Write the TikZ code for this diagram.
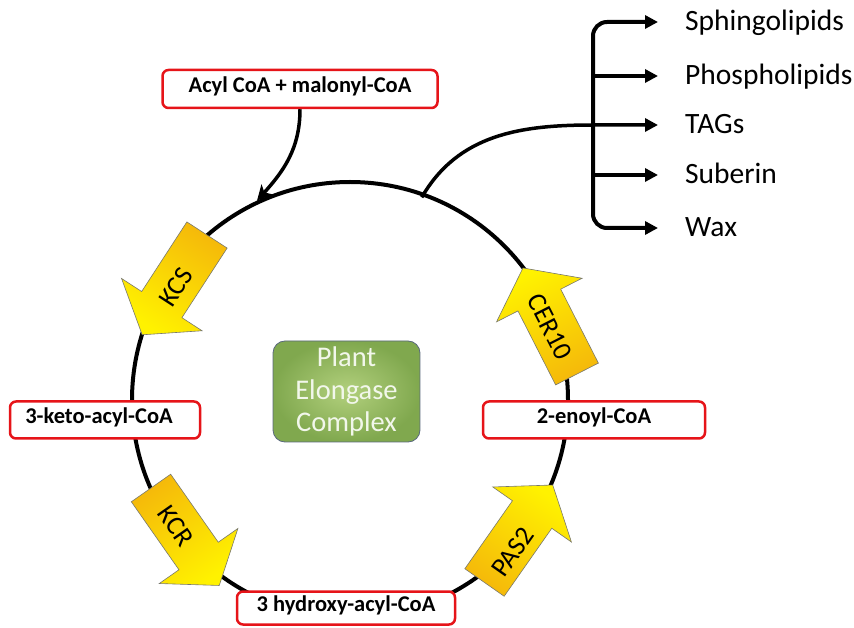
\documentclass[tikz,border=0pt]{standalone}
\usepackage{fontspec}
\setmainfont{Carlito}
\usetikzlibrary{arrows.meta,calc}
\definecolor{boxred}{RGB}{230,20,25}
\definecolor{ylw}{RGB}{255,242,0}
\definecolor{org}{RGB}{245,185,10}
\definecolor{grnin}{RGB}{178,208,125}
\definecolor{grnout}{RGB}{128,168,78}
\definecolor{plantedge}{RGB}{90,105,125}
\definecolor{arrgrey}{RGB}{120,120,110}
\definecolor{planttext}{RGB}{242,247,235}
\newcommand\yarrow[2]{\shade[yarr,shading angle={90+#2},shift={#1},rotate=#2] (0,-24) -- (83,-24) -- (83,-48) -- (119,0) -- (83,48) -- (83,24) -- (0,24) -- cycle;}
\begin{document}
\begin{tikzpicture}[x=1pt,y=1pt,
  lbl/.style={draw=boxred, line width=2.5pt, fill=white, rounded corners=6pt,
    font=\fontsize{22.5}{26}\selectfont\bfseries, inner sep=0pt, text height=0.644em, text depth=0pt},
  yarr/.style={draw=arrgrey, line width=0.6pt, left color=org, right color=ylw},
  atext/.style={font=\fontsize{27}{30}\selectfont, inner sep=0pt},
  outl/.style={font=\fontsize{29.5}{33}\selectfont, inner sep=0pt, anchor=base west},
  conn/.style={line width=3.5pt},
  brk/.style={line width=4pt},
  tri/.tip={Triangle[length=13pt,width=13pt]}]
\useasboundingbox (0,0) rectangle (854,627);
% cycle
\node[circle, draw, line width=4pt, minimum size=436pt, inner sep=0pt] (cyc) at (350,227) {};
% central box
\node[draw=plantedge, line width=0.8pt, rounded corners=12pt, inner color=grnin, outer color=grnout,
  minimum width=147pt, minimum height=101pt, text=planttext, font=\fontsize{28.5}{32.5}\selectfont,
  align=center, inner sep=0pt] (pec) at (346.5,235.5) {Plant\\Elongase\\Complex};
% metabolite boxes
\node[lbl, minimum width=275pt, minimum height=38pt] (acyl) at (300,538) {Acyl CoA + malonyl-CoA};
\node[lbl, minimum width=190pt, minimum height=37pt] (keto) at (105,207) {3-keto-acyl-CoA\hspace*{12pt}};
\node[lbl, minimum width=222pt, minimum height=37pt] (enoyl) at (594,207) {2-enoyl-CoA};
\node[lbl, minimum width=218pt, minimum height=33pt] (hydroxy) at (346,19) {3 hydroxy-acyl-CoA};
% enzyme arrows
\yarrow{(207,392)}{237}
\yarrow{(151,139)}{-55}
\yarrow{(484.5,44.5)}{55}
\yarrow{(577,253)}{117}
\node[atext, rotate=57] (kcs) at (176,340) {KCS};
\node[atext, rotate=-55] (kcr) at (176,101) {KCR};
\node[atext, rotate=55] (pas) at (513,75) {PAS2};
\node[atext, rotate=-63] (cer) at (550,300) {CER10};
% input connector
\draw[conn, -{Stealth[length=15pt,width=15pt,inset=4pt]}] (acyl.south) to[out=-90,in=48] (cyc.115.5);
% products
\node[outl] (sph) at (685,596) {Sphingolipids};
\node[outl] (pho) at (685,542) {Phospholipids};
\node[outl] (tag) at (685,493) {TAGs};
\node[outl] (sub) at (685,443) {Suberin};
\node[outl] (wax) at (685,390) {Wax};
\coordinate (a1) at (658,605);
\coordinate (a2) at (658,551);
\coordinate (a3) at (658,502);
\coordinate (a4) at (658,452);
\coordinate (a5) at (658,399);
\coordinate (bp) at ($(cyc.center)+(70.5:215)$);
\draw[brk, tri-tri, rounded corners=14pt] (a1) -- (593,605) -- (593,399) -- (a5);
\draw[brk, -tri] (593,551) -- (a2);
\draw[brk, -tri] (593,452) -- (a4);
\draw[conn, -tri] (bp) to[out=60,in=180] (593,502) -- (a3);
\end{tikzpicture}
\end{document}
